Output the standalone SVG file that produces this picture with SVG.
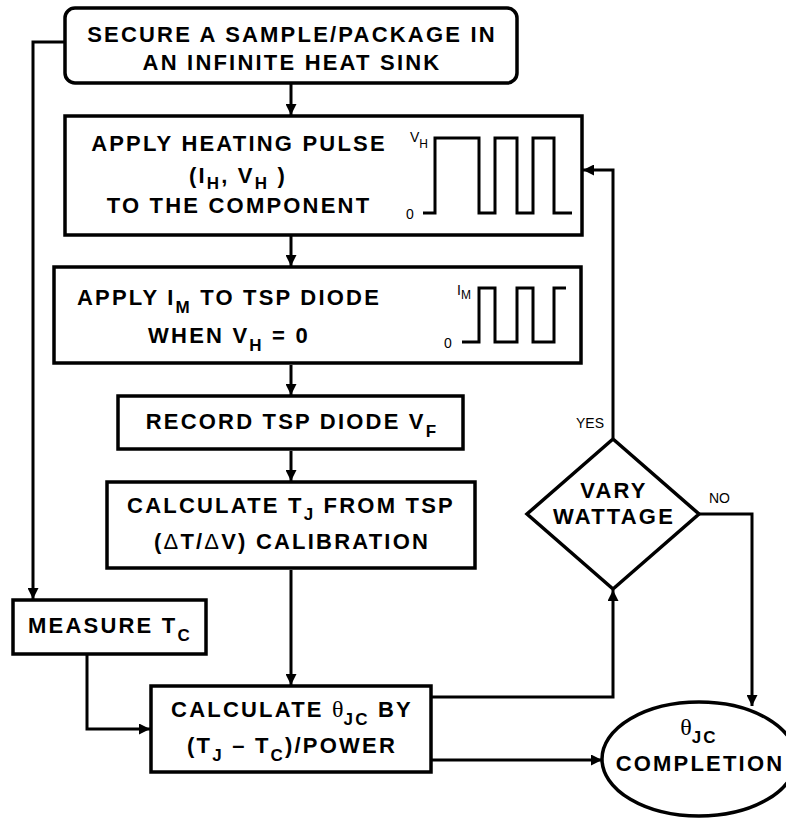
<svg xmlns="http://www.w3.org/2000/svg" width="786" height="818" viewBox="0 0 786 818">
<style>
.box{fill:#fff;stroke:#000;stroke-width:3.5}
.ln{fill:none;stroke:#000;stroke-width:3}
.wave{fill:none;stroke:#000;stroke-width:3}
.t{font-family:"Liberation Sans",Arial,Helvetica,sans-serif;font-weight:bold;font-size:22px;letter-spacing:2.2px;text-anchor:middle;fill:#000}
.sub{font-size:17px}
.th{font-family:"Liberation Serif","Times New Roman",serif;font-weight:normal;letter-spacing:0;font-size:24px}
.s{font-family:"Liberation Sans",Arial,Helvetica,sans-serif;font-size:14px;fill:#000}
.ss{font-size:12px}
</style>
<defs>
<marker id="ah" viewBox="0 0 10 10" refX="10" refY="5" markerWidth="11" markerHeight="11" markerUnits="userSpaceOnUse" orient="auto">
<path d="M0,0 L10,5 L0,10 z" fill="#000"/>
</marker>
</defs>
<g id="connectors">
<path class="ln" d="M291,84 V115" marker-end="url(#ah)"/>
<path class="ln" d="M291,236 V266" marker-end="url(#ah)"/>
<path class="ln" d="M291,365 V395" marker-end="url(#ah)"/>
<path class="ln" d="M291,451 V481" marker-end="url(#ah)"/>
<path class="ln" d="M291,570 V685" marker-end="url(#ah)"/>
<path class="ln" d="M65,42 H33 V599" marker-end="url(#ah)"/>
<path class="ln" d="M87,655 V729 H150" marker-end="url(#ah)"/>
<path class="ln" d="M432,697 H613 V590" marker-end="url(#ah)"/>
<path class="ln" d="M613,438 V170 H583" marker-end="url(#ah)"/>
<path class="ln" d="M699,514 H752 V706" marker-end="url(#ah)"/>
<path class="ln" d="M432,760 H602" marker-end="url(#ah)"/>
<text class="s" x="576" y="428">YES</text>
<text class="s" x="709" y="503">NO</text>
</g>
<g id="secure">
<rect class="box" x="65" y="8" width="452" height="75" rx="10"/>
<text class="t" x="292" y="42">SECURE A SAMPLE/PACKAGE IN</text>
<text class="t" x="292" y="70">AN INFINITE HEAT SINK</text>
</g>
<g id="heating">
<rect class="box" x="65" y="116" width="517" height="119"/>
<text class="t" x="239" y="151">APPLY HEATING PULSE</text>
<text class="t" x="238" y="183">(I<tspan class="sub" dy="6">H</tspan><tspan dy="-6">, V</tspan><tspan class="sub" dy="6">H</tspan><tspan dy="-6"> )</tspan></text>
<text class="t" x="239" y="213">TO THE COMPONENT</text>
<text class="s" x="410" y="142">V<tspan class="ss" dy="6">H</tspan></text>
<text class="s" x="406" y="219">0</text>
<path class="wave" d="M423,213 H435 V138 H479 V213 H495 V138 H517 V213 H533 V138 H554 V213 H572"/>
</g>
<g id="applyim">
<rect class="box" x="54" y="267" width="527" height="96"/>
<text class="t" x="229" y="305">APPLY I<tspan class="sub" dy="8">M</tspan><tspan dy="-8"> TO TSP DIODE</tspan></text>
<text class="t" x="229" y="343">WHEN V<tspan class="sub" dy="8">H</tspan><tspan dy="-8">  =  0</tspan></text>
<text class="s" x="457" y="295">I<tspan class="ss" dy="4">M</tspan></text>
<text class="s" x="444" y="348">0</text>
<path class="wave" d="M462,342 H479 V288 H495 V342 H517 V288 H533 V342 H554 V288 H566"/>
</g>
<g id="record">
<rect class="box" x="118" y="396" width="345" height="53"/>
<text class="t" x="292" y="429">RECORD TSP DIODE V<tspan class="sub" dy="8">F</tspan></text>
</g>
<g id="calctj">
<rect class="box" x="107" y="482" width="368" height="86"/>
<text class="t" x="291" y="513">CALCULATE T<tspan class="sub" dy="7">J</tspan><tspan dy="-7"> FROM TSP</tspan></text>
<text class="t" x="292" y="549">(<tspan font-weight="normal">Δ</tspan>T/<tspan font-weight="normal">Δ</tspan>V) CALIBRATION</text>
</g>
<g id="measure">
<rect class="box" x="13" y="600" width="193" height="54"/>
<text class="t" x="110" y="633">MEASURE T<tspan class="sub" dy="8">C</tspan></text>
</g>
<g id="calctheta">
<rect class="box" x="151" y="686" width="280" height="86"/>
<text class="t" x="292" y="717">CALCULATE <tspan class="th">θ</tspan><tspan class="sub" dy="8">JC</tspan><tspan dy="-8"> BY</tspan></text>
<text class="t" x="292" y="753">(T<tspan class="sub" dy="8">J</tspan><tspan dy="-8"> – T</tspan><tspan class="sub" dy="8">C</tspan><tspan dy="-8">)/POWER</tspan></text>
</g>
<g id="vary">
<polygon class="box" points="613,439 699,514 613,589 527,514"/>
<text class="t" x="614" y="498">VARY</text>
<text class="t" x="614" y="524">WATTAGE</text>
</g>
<g id="completion">
<ellipse class="box" cx="699" cy="759" rx="97" ry="57"/>
<text class="t" x="699" y="735"><tspan class="th">θ</tspan><tspan class="sub" dy="8">JC</tspan></text>
<text class="t" x="700" y="771">COMPLETION</text>
</g>
</svg>
